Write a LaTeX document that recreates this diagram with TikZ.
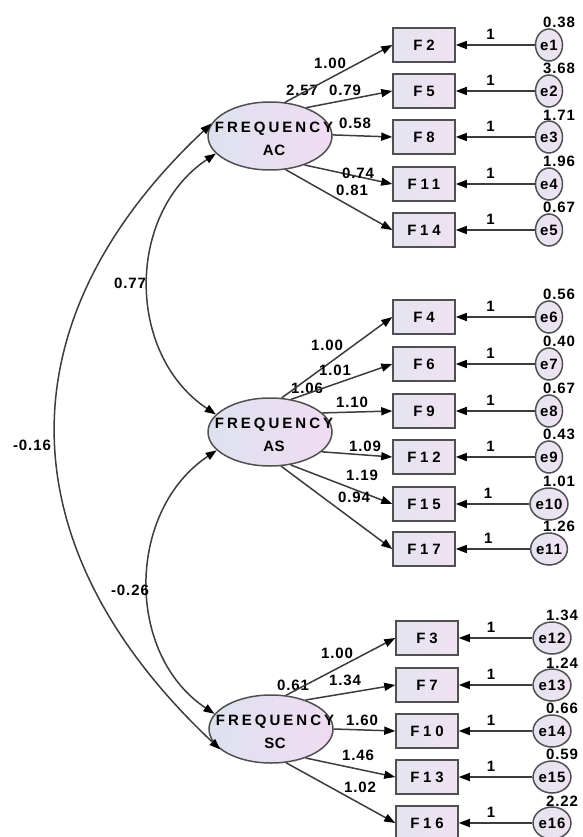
\documentclass[tikz,border=0pt]{standalone}
\usepackage{fontspec}
\setmainfont{Liberation Sans}
\newfontfamily\numfont{Liberation Sans}[LetterSpace=6]
\newfontfamily\obsfont{Liberation Sans}[LetterSpace=25]
\newfontfamily\latfont{Liberation Sans}[LetterSpace=20]
\newfontfamily\latfontb{Liberation Sans}[LetterSpace=4]
\usepackage{tikz}
\usetikzlibrary{shapes.geometric,arrows.meta}
\definecolor{linea}{RGB}{60,60,60}
\definecolor{borde}{RGB}{80,80,80}
\definecolor{cajaL}{RGB}{228,228,240}
\definecolor{cajaR}{RGB}{240,226,242}
\definecolor{elipL}{RGB}{222,226,238}
\definecolor{elipR}{RGB}{240,220,242}
\tikzset{
  obs/.style={draw=borde, line width=1.5pt, left color=cajaL, right color=cajaR,
    minimum width=62pt, minimum height=34pt, inner sep=0pt,
    font=\obsfont\bfseries\fontsize{15}{18}\selectfont},
  err/.style={ellipse, draw=borde, line width=1.5pt, left color=cajaL, right color=cajaR,
    minimum width=27pt, minimum height=32pt, inner sep=0pt, label distance=7pt,
    font=\numfont\bfseries\fontsize{15}{18}\selectfont},
  latent/.style={ellipse, draw=borde, line width=1.5pt, left color=elipL, right color=elipR,
    minimum width=124pt, minimum height=68pt, inner sep=0pt},
  lattext/.style={align=center, inner sep=0pt, xshift=4pt, yshift=-2.5pt,
    font=\latfont\bfseries\fontsize{15}{23}\selectfont},
  num/.style={inner sep=0pt, font=\numfont\bfseries\fontsize{15}{18}\selectfont},
  evar/.style={num, xshift=10pt},
  flecha/.style={draw=linea, line width=1.5pt, -{Triangle[length=11pt,width=8pt,black]}},
  cov/.style={draw=linea, line width=1.5pt,
    {Triangle[length=11pt,width=8pt,black]}-{Triangle[length=11pt,width=8pt,black]}},
}

\begin{document}
\begin{tikzpicture}[x=1pt,y=-1pt]
\useasboundingbox (0,0) rectangle (582,837);
% Variables latentes
\node[latent, label={[lattext]center:{FREQUENCY\\{\latfontb AC}}}] (ac) at (270,136) {};
\node[latent, label={[lattext]center:{FREQUENCY\\{\latfontb AS}}}] (as) at (270,432) {};
\node[latent, label={[lattext]center:{FREQUENCY\\{\latfontb SC}}}] (sc) at (271,729) {};
\node[num] (vac) at (302,90) {2.57};
\node[num] (vas) at (307,388) {1.06};
\node[num] (vsc) at (293,685) {0.61};

% Indicadores y errores
\foreach \i/\k/\y/\v in {2/1/45/0.38, 5/2/91/3.68, 8/3/137/1.71, 11/4/184/1.96, 14/5/230/0.67,
    4/6/317/0.56, 6/7/364/0.40, 9/8/411/0.67, 12/9/457/0.43, 15/10/504/1.01, 17/11/549/1.26}{
  \node[obs] (f\i) at (424,\y) {F\i};
  \node[err, label={[evar]90:\v}] (e\k) at (549,\y) {e\k};
  \draw[flecha] (e\k) -- node[num, above=5pt, pos=0.56] {1} (f\i);
}
\foreach \i/\k/\y/\v in {3/12/638/1.34, 7/13/685/1.24, 10/14/731/0.66, 13/15/777/0.59, 16/16/823/2.22}{
  \node[obs] (f\i) at (427,\y) {F\i};
  \node[err, label={[evar]90:\v}] (e\k) at (552,\y) {e\k};
  \draw[flecha] (e\k) -- node[num, above=5pt, pos=0.56] {1} (f\i);
}

% Cargas factoriales
\foreach \i/\a/\lx/\ly/\v in {2/66/330/63/1.00, 5/38/345/90/0.79, 8/1/355/123/0.58,
    11/-40/358/173/0.74, 14/-65/352/190/0.81}
  \draw[flecha] (ac.\a) -- (f\i.west) node[num] at (\lx,\ly) {\v};
\foreach \i/\a/\lx/\ly/\v in {4/71/327/345/1.00, 6/57/335/370/1.01, 9/20/352/402/1.10,
    12/-21/365/446/1.09, 15/-58/362/475/1.19, 17/-72/354/497/0.94}
  \draw[flecha] (as.\a) -- (f\i.west) node[num] at (\lx,\ly) {\v};
\foreach \i/\a/\lx/\ly/\v in {3/66/337/653/1.00, 7/40/345/680/1.34, 10/0/362/720/1.60,
    13/-40/358/755/1.46, 16/-66/360/787/1.02}
  \draw[flecha] (sc.\a) -- (f\i.west) node[num] at (\lx,\ly) {\v};

% Covarianzas
\draw[cov] (ac.198) .. controls +(-90,60) and +(-90,-60) .. (as.162)
  node[num] at (130,283) {0.77};
\draw[cov] (as.199) .. controls +(-90,60) and +(-90,-60) .. (sc.165)
  node[num] at (130,590) {-0.26};
\draw[cov] (ac.168) .. controls +(-213,200) and +(-213,-200) .. (sc.202)
  node[num] at (32,445) {-0.16};
\end{tikzpicture}
\end{document}
